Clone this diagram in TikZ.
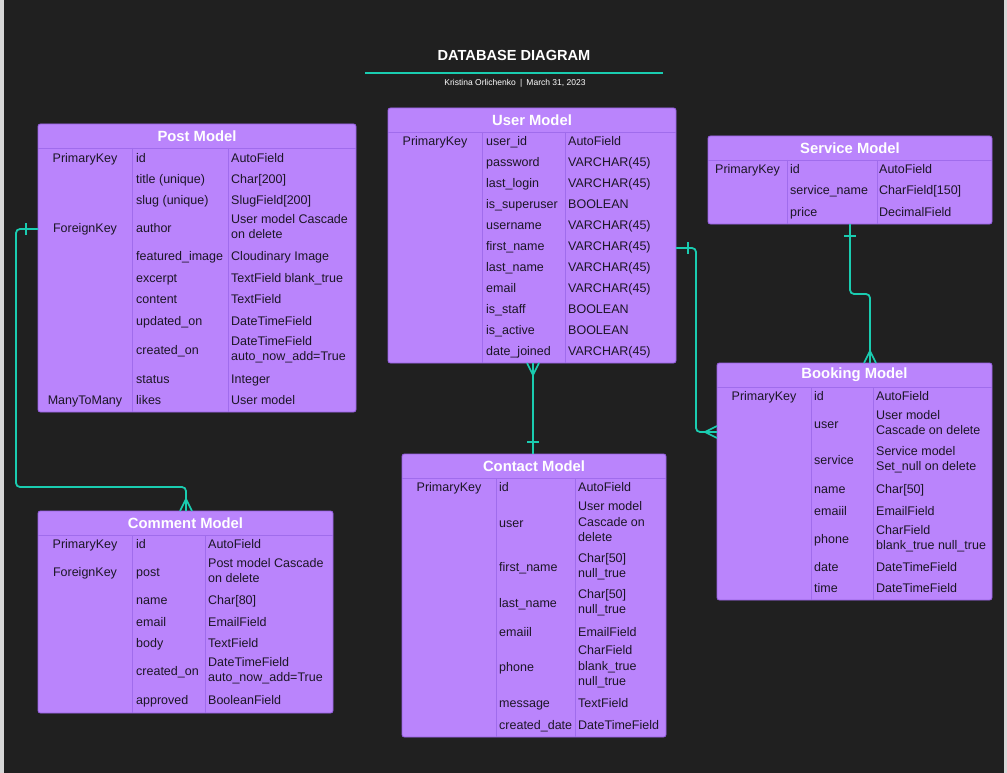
\documentclass[tikz,border=0pt]{standalone}
\usepackage{fontspec}
\setmainfont{Liberation Sans}
\definecolor{bgc}{RGB}{32,32,32}
\definecolor{edgec}{RGB}{215,215,215}
\definecolor{boxfill}{RGB}{186,132,252}
\definecolor{boxline}{RGB}{150,96,224}
\definecolor{divc}{RGB}{160,108,236}
\definecolor{txt}{RGB}{28,22,38}
\definecolor{tealc}{RGB}{26,204,176}
\newcommand{\tablebox}[9]{%
  \node[tbox, minimum width={(#4-#2)*1pt}, minimum height={(#5-#3)*1pt}] (#1) at (#2,#3) {};
  \draw[divline] (#2,#6) -- (#4,#6);
  \draw[divline] (#7,#6) -- (#7,#5);
  \draw[divline] (#8,#6) -- (#8,#5);
  \node[headtext] (#1title) at ({(#2+#4)/2},{(#3+#6)/2}) {#9};}
\newcommand{\rowe}[6]{%
  \ifx\relax#4\relax\else\node[keytext] (#1k#2) at (\kx,#3+1) {#4};\fi
  \node[fieldtext] (#1f#2) at (\fx,#3+1) {#5};
  \node[typetext] (#1t#2) at (\tx,#3+1) {#6};}
\begin{document}
\begin{tikzpicture}[x=1pt,y=-1pt,
  tbox/.style={draw=boxline, fill=boxfill, line width=0.9pt, rounded corners=2.5pt, inner sep=0pt, outer sep=0pt, anchor=north west},
  divline/.style={draw=divc, line width=0.9pt},
  headtext/.style={text=white, font=\fontsize{14.8}{18}\selectfont\bfseries, inner sep=0pt},
  keytext/.style={text=txt, font=\fontsize{12.5}{15.5}\selectfont, inner sep=0pt, execute at begin node=\strut},
  fieldtext/.style={keytext, anchor=west},
  typetext/.style={fieldtext, align=left, execute at end node=\strut},
  conn/.style={draw=tealc, line width=1.8pt, rounded corners=4pt},
  crowline/.style={draw=tealc, line width=1.6pt}]
\fill[bgc] (0,0) rectangle (1007,773);
\fill[edgec] (0,0) rectangle (4,773);
\fill[edgec] (1004,0) rectangle (1007,773);
\useasboundingbox (0,0) rectangle (1007,773);
% title
\node[text=white, font=\fontsize{14.6}{17}\selectfont\bfseries, inner sep=0pt] (title) at (514,55) {DATABASE DIAGRAM};
\draw[tealc, line width=2pt] (365,73) -- (663,73);
\node[text=white, font=\fontsize{8.5}{10}\selectfont, inner sep=0pt] (subtitle) at (515,83) {Kristina Orlichenko\enspace|\enspace March 31, 2023};
% tables
\tablebox{post}{38}{124}{356}{412}{148}{132}{228}{Post Model}
\tablebox{user}{388}{108}{676}{363}{132}{482}{565}{User Model}
\tablebox{service}{708}{136}{992}{224}{160}{787}{877}{Service Model}
\tablebox{booking}{717}{363}{992}{600}{387}{811}{873}{Booking Model}
\tablebox{contact}{402}{454}{666}{737}{478}{496}{575}{Contact Model}
\tablebox{comment}{38}{511}{333}{713}{535}{132}{205}{Comment Model}
% connectors
\draw[conn] (post.west |- 0,229) -- (16,229) -- (16,487) -- (186,487) -- (186,0 |- comment.north);
\draw[crowline] (26,223) -- (26,235);
\draw[crowline] (180,0 |- comment.north) -- (186,499) -- (192,0 |- comment.north);
\draw[conn] (533,0 |- user.south) -- (533,0 |- contact.north);
\draw[crowline] (527,0 |- user.south) -- (533,375) -- (539,0 |- user.south);
\draw[crowline] (527,442) -- (539,442);
\draw[conn] (user.east |- 0,248) -- (696,248) -- (696,432) -- (booking.west |- 0,432);
\draw[crowline] (688,242) -- (688,254);
\draw[crowline] (booking.west |- 0,426) -- (705,432) -- (booking.west |- 0,438);
\draw[conn] (850,0 |- service.south) -- (850,294) -- (870,294) -- (870,0 |- booking.north);
\draw[crowline] (844,236) -- (856,236);
\draw[crowline] (864,0 |- booking.north) -- (870,351) -- (876,0 |- booking.north);
% Post rows
\def\kx{85}\def\fx{136}\def\tx{231}
\rowe{post}{1}{158}{PrimaryKey}{id}{AutoField}
\rowe{post}{2}{179}{}{title (unique)}{Char[200]}
\rowe{post}{3}{200}{}{slug (unique)}{SlugField[200]}
\rowe{post}{4}{228}{ForeignKey}{author}{User model Cascade\\on delete}
\rowe{post}{5}{256}{}{featured\_image}{Cloudinary Image}
\rowe{post}{6}{278}{}{excerpt}{TextField blank\_true}
\rowe{post}{7}{299}{}{content}{TextField}
\rowe{post}{8}{321}{}{updated\_on}{DateTimeField}
\rowe{post}{9}{350}{}{created\_on}{DateTimeField\\auto\_now\_add=True}
\rowe{post}{10}{379}{}{status}{Integer}
\rowe{post}{11}{400}{ManyToMany}{likes}{User model}
% User rows
\def\kx{435}\def\fx{486}\def\tx{568}
\rowe{user}{1}{141}{PrimaryKey}{user\_id}{AutoField}
\rowe{user}{2}{162}{}{password}{VARCHAR(45)}
\rowe{user}{3}{183}{}{last\_login}{VARCHAR(45)}
\rowe{user}{4}{204}{}{is\_superuser}{BOOLEAN}
\rowe{user}{5}{225}{}{username}{VARCHAR(45)}
\rowe{user}{6}{246}{}{first\_name}{VARCHAR(45)}
\rowe{user}{7}{267}{}{last\_name}{VARCHAR(45)}
\rowe{user}{8}{288}{}{email}{VARCHAR(45)}
\rowe{user}{9}{309}{}{is\_staff}{BOOLEAN}
\rowe{user}{10}{330}{}{is\_active}{BOOLEAN}
\rowe{user}{11}{351}{}{date\_joined}{VARCHAR(45)}
% Service rows
\def\kx{747.5}\def\fx{790}\def\tx{879}
\rowe{service}{1}{169}{PrimaryKey}{id}{AutoField}
\rowe{service}{2}{190}{}{service\_name}{CharField[150]}
\rowe{service}{3}{212}{}{price}{DecimalField}
% Booking rows
\def\kx{764}\def\fx{814}\def\tx{876}
\rowe{booking}{1}{396}{PrimaryKey}{id}{AutoField}
\rowe{booking}{2}{424}{}{user}{User model\\Cascade on delete}
\rowe{booking}{3}{460}{}{service}{Service model\\Set\_null on delete}
\rowe{booking}{4}{489}{}{name}{Char[50]}
\rowe{booking}{5}{511}{}{emaiil}{EmailField}
\rowe{booking}{6}{539}{}{phone}{CharField\\blank\_true null\_true}
\rowe{booking}{7}{567}{}{date}{DateTimeField}
\rowe{booking}{8}{588}{}{time}{DateTimeField}
% Contact rows
\def\kx{449}\def\fx{499}\def\tx{578}
\rowe{contact}{1}{487}{PrimaryKey}{id}{AutoField}
\rowe{contact}{2}{523}{}{user}{User model\\Cascade on\\delete}
\rowe{contact}{3}{567}{}{first\_name}{Char[50]\\null\_true}
\rowe{contact}{4}{603}{}{last\_name}{Char[50]\\null\_true}
\rowe{contact}{5}{632}{}{emaiil}{EmailField}
\rowe{contact}{6}{667}{}{phone}{CharField\\blank\_true\\null\_true}
\rowe{contact}{7}{703}{}{message}{TextField}
\rowe{contact}{8}{725}{}{created\_date}{DateTimeField}
% Comment rows
\def\kx{85}\def\fx{136}\def\tx{208}
\rowe{comment}{1}{544}{PrimaryKey}{id}{AutoField}
\rowe{comment}{2}{572}{ForeignKey}{post}{Post model Cascade\\on delete}
\rowe{comment}{3}{600}{}{name}{Char[80]}
\rowe{comment}{4}{622}{}{email}{EmailField}
\rowe{comment}{5}{643}{}{body}{TextField}
\rowe{comment}{6}{671}{}{created\_on}{DateTimeField\\auto\_now\_add=True}
\rowe{comment}{7}{700}{}{approved}{BooleanField}
\end{tikzpicture}
\end{document}
